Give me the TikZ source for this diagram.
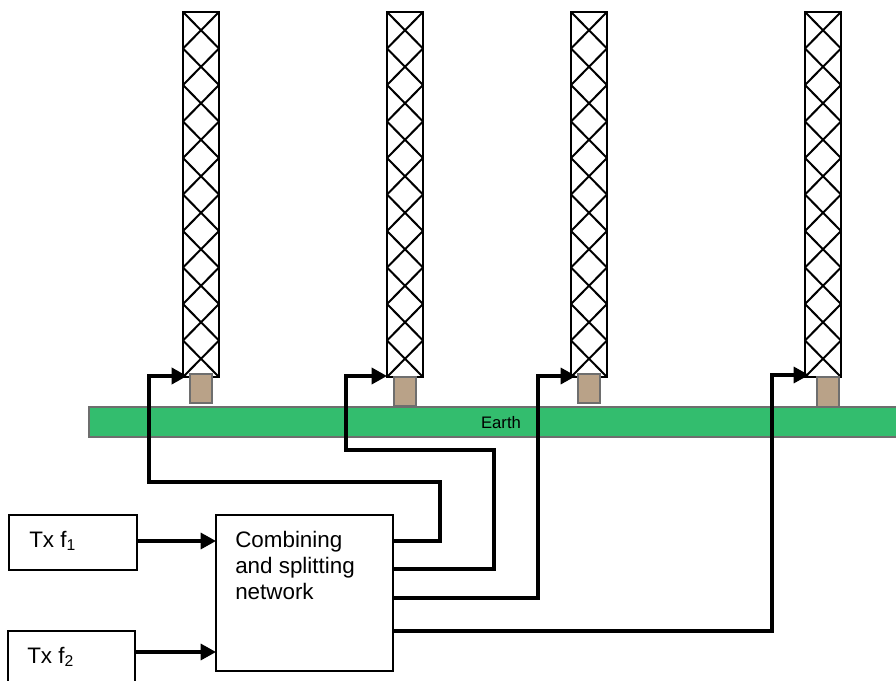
\documentclass[tikz,border=0pt]{standalone}
\usepackage{fontspec}
\setmainfont{Liberation Sans}
\usetikzlibrary{arrows.meta,calc}
\definecolor{earthgreen}{HTML}{33BD6E}
\definecolor{basetan}{HTML}{B9A288}
\definecolor{edgegray}{HTML}{6E6E6E}
\tikzset{
  x=0.75pt,y=-0.75pt,
  mast/.style={draw=black,line width=1.5pt,fill=none,minimum width=27pt,minimum height=273.75pt,inner sep=0pt,outer sep=0pt},
  lattice/.style={draw=black,line width=1.5pt},
  basebox/.style={draw=edgegray,line width=1.5pt,fill=basetan,minimum width=16.5pt,minimum height=22pt,inner sep=0pt,outer sep=0pt},
  earthbar/.style={draw=edgegray,line width=1.3pt,fill=earthgreen,minimum width=630pt,minimum height=22.5pt,inner sep=0pt,outer sep=0pt},
  block/.style={draw=black,line width=1.1pt,fill=white,inner sep=0pt,outer sep=0pt},
  lbl/.style={font=\fontsize{16.8}{19.4}\selectfont,align=left,inner sep=0pt,anchor=base west},
  feed/.style={draw=black,line join=miter,-{Triangle[length=11.5pt,width=12pt]}},
}
\begin{document}
\begin{tikzpicture}
\useasboundingbox (0,0) rectangle (896,681);
\clip (0,0) rectangle (896,681);
% earth
\node[earthbar] (earth) at (509,422) {};
\node[inner sep=0pt,font=\fontsize{12.5}{14}\selectfont] (earthlabel) at (501,422.5) {Earth};
% masts and bases
\foreach \n/\mx/\bx/\by in {a/201/201/388.5,b/405/405/391.5,c/589/589/388.5,d/823/828/392}{
  \node[mast] (mast\n) at (\mx,194.5) {};
  \foreach \k in {0,...,9}{
    \draw[lattice] ($(mast\n.north west)+(0,{\k*36.5})$) -- ($(mast\n.north east)+(0,{(\k+1)*36.5})$);
    \draw[lattice] ($(mast\n.north east)+(0,{\k*36.5})$) -- ($(mast\n.north west)+(0,{(\k+1)*36.5})$);
  }
  \node[basebox] (base\n) at (\bx,\by) {};
}
% blocks
\node[block,minimum width=96pt,minimum height=41.25pt] (txa) at (73,542.5) {};
\node[block,minimum width=95.25pt,minimum height=45pt] (txb) at (71.5,661) {};
\node[block,minimum width=132.75pt,minimum height=117pt] (net) at (304.5,593) {};
\node[lbl] (txalabel) at (29,547) {Tx f\textsubscript{1}};
\node[lbl] (txblabel) at (27,663) {Tx f\textsubscript{2}};
\node[lbl] (netlabel) at (235,599) {Combining\\and splitting\\network};
% connector ends
\coordinate (s1) at (net.east |- 0,541);
\coordinate (s2) at (net.east |- 0,569);
\coordinate (s3) at (net.east |- 0,598);
\coordinate (s4) at (net.east |- 0,631);
\coordinate (t1) at (187,376);
\coordinate (t2) at (387,376);
\coordinate (t3) at (576,376);
\coordinate (t4) at (809,375);
\coordinate (ia) at (net.west |- 0,541);
\coordinate (ib) at (net.west |- 0,652);
% connectors
\draw[feed,line width=2.75pt] (s1) -| (440,482) -| (149,376) -- (t1);
\draw[feed,line width=2.6pt] (s2) -| (494,450) -| (346,376) -- (t2);
\draw[feed,line width=2.5pt] (s3) -| (538,376) -- (t3);
\draw[feed,line width=2.4pt] (s4) -| (772,375) -- (t4);
\draw[feed,line width=2.4pt] (txa.east |- ia) -- (ia);
\draw[feed,line width=2.4pt] (txb.east |- ib) -- (ib);
\end{tikzpicture}
\end{document}
